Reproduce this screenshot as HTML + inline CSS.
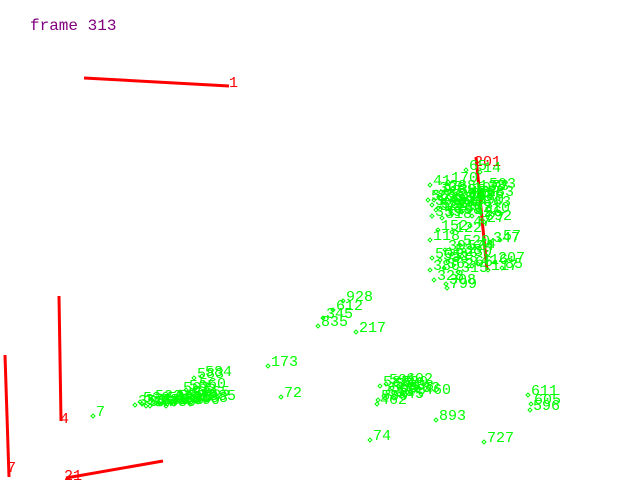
<!DOCTYPE html>
<html><head><meta charset="utf-8"><style>
html,body{margin:0;padding:0;background:#fff;width:640px;height:480px;overflow:hidden}
svg text{font-family:"Liberation Mono",monospace}
</style></head><body>
<svg id="chart" width="640" height="480" viewBox="0 0 640 480">
<text x="30" y="30" fill="#800080" font-size="16">frame 313</text>
<g id="segs"></g><g id="pts"></g>
</svg>
<script>
// line segments: start/end coords and ids
const segX1=[84,59,5,66,476];
const segY1=[78,296,355,478,157];
const segX2=[229,61,9,163,487];
const segY2=[86,421,477,461,270];
const segLabels=["1","4","7","21","201"];
const segLabelX=[229,60,7,64,474];
const segLabelY=[87,423,472,480,166];
// points: marker positions and labels
const ptX=[343,333,323,318,356,268,281,93,370,436,484,528,531,530,403,421,377,
 447,430,428,448,466,480,432,440,455,470,488,436,450,465,480,490,438,452,470,484,430,445,460,475,490,500,432,448,462,478,495,430,444,458,472,488,502,434,446,
 436,446,456,466,476,486,434,444,454,464,474,484,438,450,462,474,432,442,452,462,472,482,440,452,464,
 380,386,392,398,404,410,384,394,378,388,396,
 135,142,150,158,166,174,182,190,198,206,140,152,164,176,188,200,180,186,194,202,146,160,172,184,196];
const ptY=[301,310,318,326,332,366,397,416,440,420,442,395,404,410,383,394,404,
 288,185,200,182,170,172,205,195,198,192,190,210,208,200,212,206,230,232,226,222,240,250,245,248,242,240,258,262,256,264,262,270,268,272,266,270,268,280,284,
 192,190,194,196,190,188,200,202,204,200,198,196,208,210,206,204,216,218,214,212,216,220,260,254,250,
 386,384,388,386,390,392,396,398,400,392,394,
 405,404,406,404,406,404,402,404,402,400,402,400,402,400,398,396,392,390,378,376,406,404,402,400,388];
const ptLabels=["928","612","345","835","217","173","72","7","74","893","727","611","605","596","602","460","462",
 "799","41","56","170","65","14","390","88","231","105","73","522","19","44","210","63","152","122","47","27","118","39","520","44","347","57","501","338","230","416","207","380","362","315","66","117","85","328","308",
 "308","288","355","456","138","503","250","335","318","404","396","283","586","575","588","590","359","318","398","307","426","392","551","538","524",
 "582","591","571","520","588","583","515","545","580","568","595",
 "354","371","357","383","380","356","365","390","388","385","530","522","542","533","546","565","563","565","583","584","377","368","389","531","560"];
const NS="http://www.w3.org/2000/svg";
const sg=document.getElementById('segs');
for(let i=0;i<segX1.length;i++){
 const l=document.createElementNS(NS,'line');
 l.setAttribute('x1',segX1[i]);l.setAttribute('y1',segY1[i]);
 l.setAttribute('x2',segX2[i]);l.setAttribute('y2',segY2[i]);
 l.setAttribute('stroke','#ff0000');l.setAttribute('stroke-width','3');
 
 
 sg.appendChild(l);
 const t=document.createElementNS(NS,'text');
 t.setAttribute('x',segLabelX[i]);t.setAttribute('y',segLabelY[i]);
 t.setAttribute('fill','#ff0000');t.setAttribute('font-size','15');
 t.textContent=segLabels[i];
 
 
 sg.appendChild(t);
}
const pg=document.getElementById('pts');
for(let i=0;i<ptX.length;i++){
 const x=ptX[i],y=ptY[i];
 const m=document.createElementNS(NS,'polygon');
 m.setAttribute('points',`${x},${y-2} ${x+2},${y} ${x},${y+2} ${x-2},${y}`);
 m.setAttribute('fill','none');m.setAttribute('stroke','#00ff00');m.setAttribute('stroke-width','1');
 
 
 pg.appendChild(m);
 const t=document.createElementNS(NS,'text');
 t.setAttribute('x',x+3);t.setAttribute('y',y);
 t.setAttribute('fill','#00ff00');t.setAttribute('font-size','15');
 t.textContent=ptLabels[i];
 
 
 pg.appendChild(t);
}
</script>
</body></html>
